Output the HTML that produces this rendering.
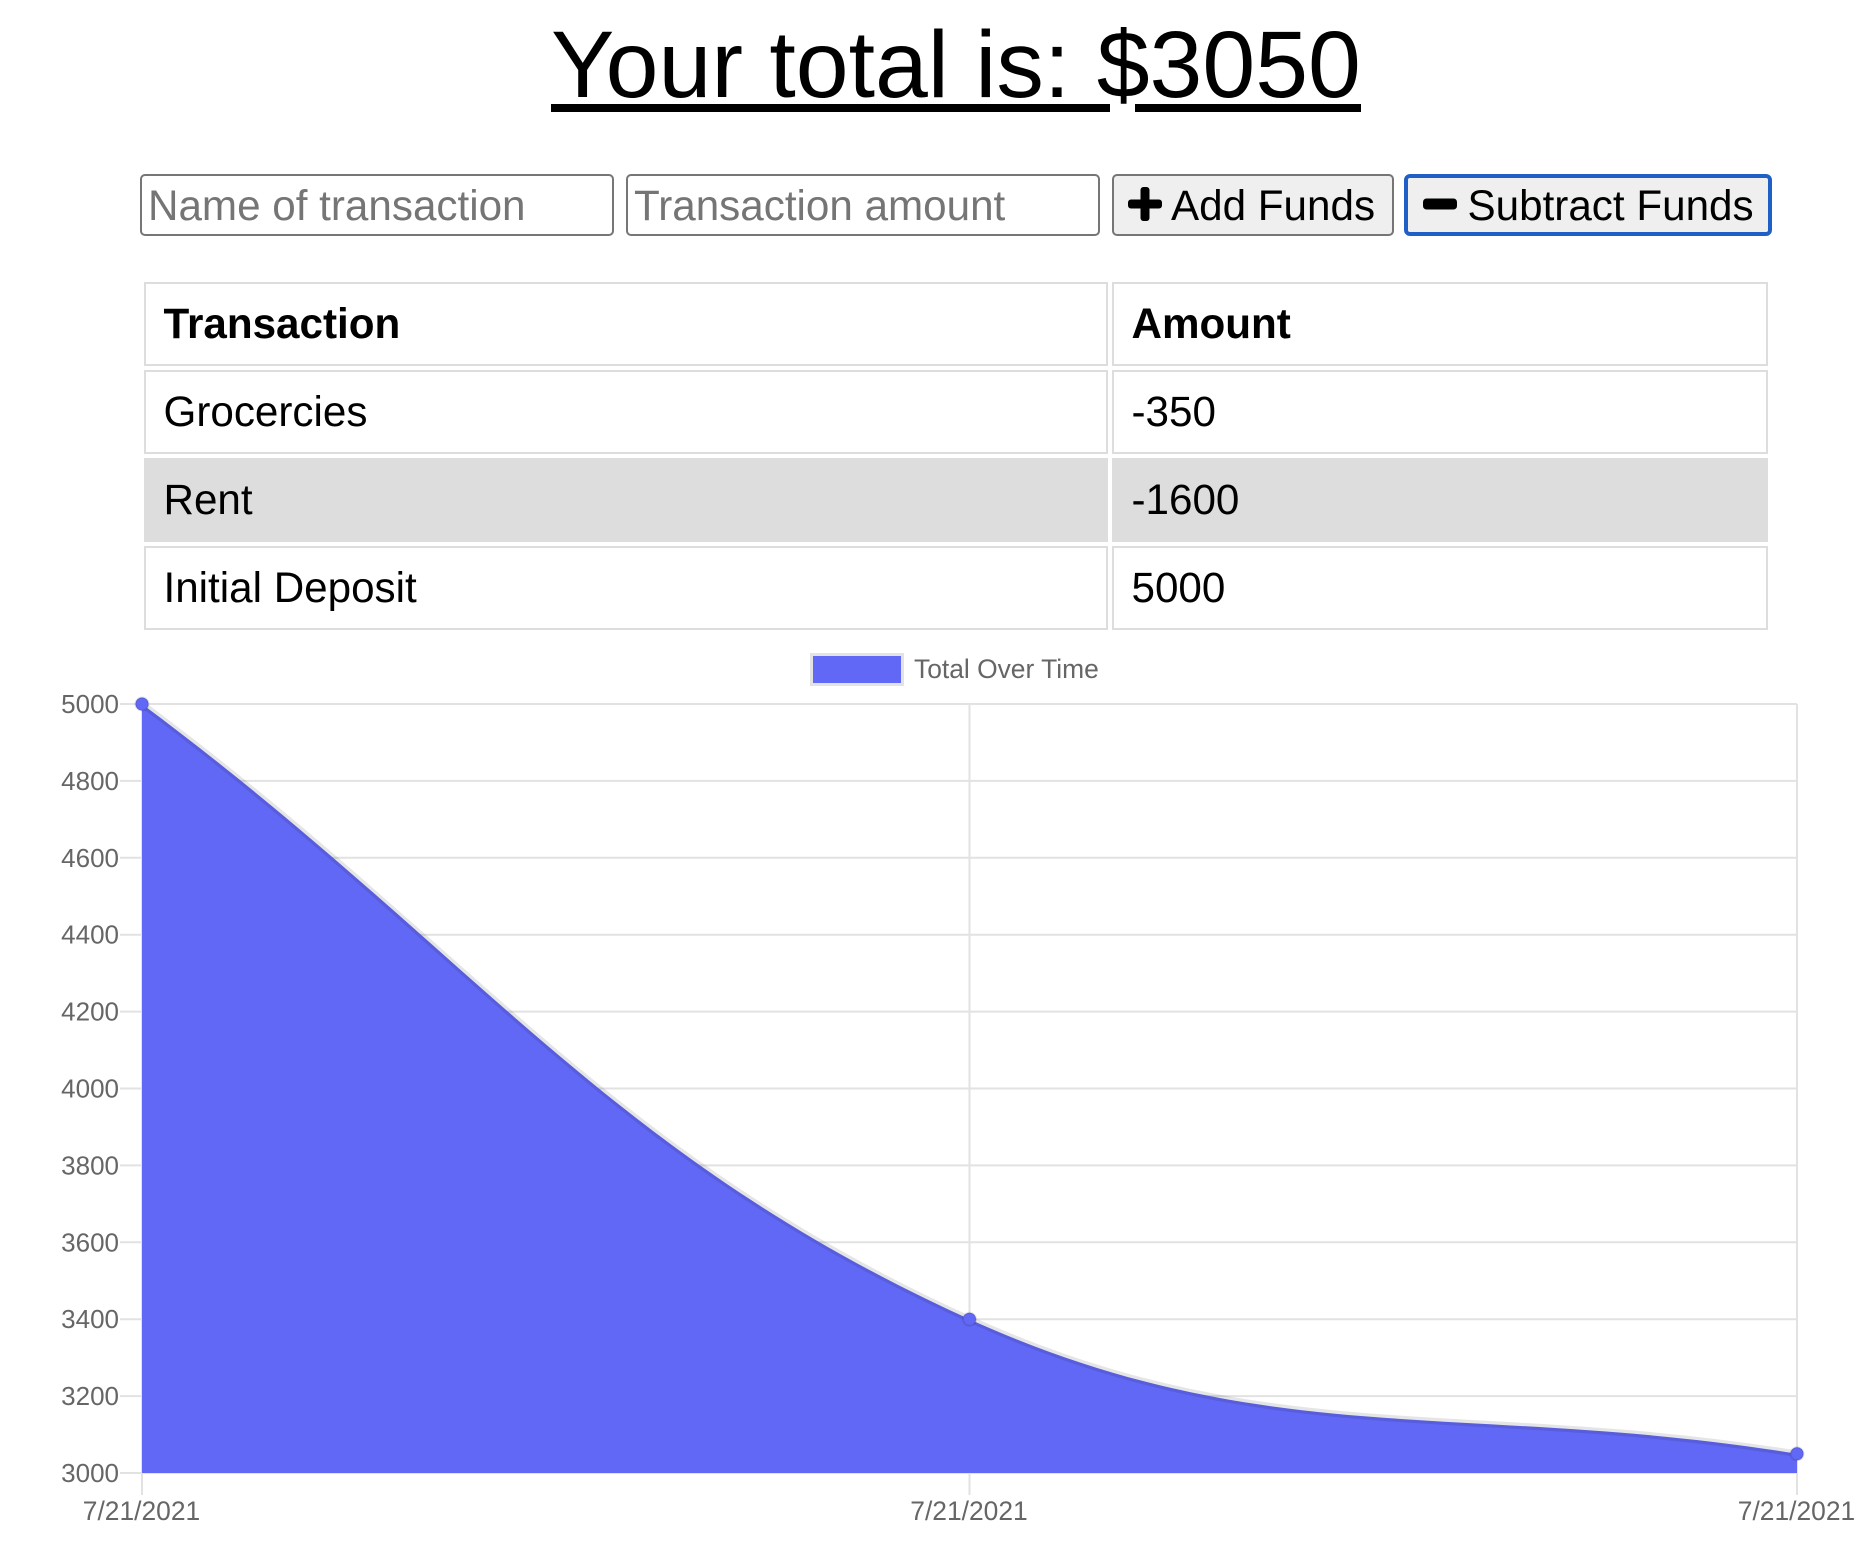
<!DOCTYPE html>
<html lang="en">
<head>
<meta charset="utf-8">
<title>Budget Tracker</title>
<style>
html,body{margin:0;padding:0;background:#fff}
body{width:1864px;height:1550px;position:relative;overflow:hidden;font-family:"Liberation Sans",Arial,sans-serif;color:#000}
#title{position:absolute;left:551px;top:0;margin:0;text-align:left;font-weight:400;font-size:95px;line-height:130px;height:130px;white-space:pre}
.rule{position:absolute;top:104px;height:8px;background:#000}
.field,.btn{position:absolute;top:174px;height:62px;box-sizing:border-box;border:2px solid #767676;border-radius:5px;font-family:"Liberation Sans",Arial,sans-serif;font-size:42.2px;margin:0}
.field{background:#fff;padding:2px 6px 0;outline:none}
.field::placeholder{color:#757575;opacity:1}
.btn{background:#efefef;color:#000;padding:0;text-align:left;white-space:nowrap}
.btn span{position:absolute;top:calc(50% + 1px);transform:translateY(-50%);line-height:50px}
.btn svg{position:absolute;display:block}
#subtract{border:4px solid #2060c6;border-radius:6px}
#tx{position:absolute;left:140px;top:278px;width:1632px;border-collapse:separate;border-spacing:4px;table-layout:fixed;font-size:42.2px}
#tx th,#tx td{height:84px;box-sizing:border-box;border:2px solid #ddd;padding:0 0 0 17.5px;text-align:left;vertical-align:middle;line-height:50px}
#tx tr.alt td{background:#ddd}
#chart{position:absolute;left:0;top:0}
#chart text{font-family:"Liberation Sans",Arial,sans-serif;font-size:26.4px;fill:#666}
#chart text.y-label{font-size:26px}
</style>
</head>
<body>
<h1 id="title">Your total is: $3050</h1>
<div class="rule" style="left:551px;width:559px"></div>
<div class="rule" style="left:1135px;width:226px"></div>

<input class="field" style="left:140px;width:473.5px" placeholder="Name of transaction">
<input class="field" style="left:626px;width:474px" placeholder="Transaction amount">

<button class="btn" id="add" style="left:1112px;width:282px">
  <svg style="left:13px;top:9.5px" width="36" height="36" viewBox="0 0 36 36"><rect x="13.5" y="1" width="9" height="34" rx="3" fill="#000"/><rect x="1" y="13.5" width="34" height="9" rx="3" fill="#000"/></svg>
  <span style="left:57px">Add Funds</span>
</button>
<button class="btn" id="subtract" style="left:1404px;width:368px">
  <svg style="left:13.5px;top:7.5px" width="36" height="36" viewBox="0 0 36 36"><rect x="1" y="12.5" width="34" height="11" rx="3.5" fill="#000"/></svg>
  <span style="left:59.5px">Subtract Funds</span>
</button>

<table id="tx">
  <colgroup><col style="width:964px"><col></colgroup>
  <thead>
    <tr><th>Transaction</th><th>Amount</th></tr>
  </thead>
  <tbody>
    <tr><td>Grocercies</td><td>-350</td></tr>
    <tr class="alt"><td>Rent</td><td>-1600</td></tr>
    <tr><td>Initial Deposit</td><td>5000</td></tr>
  </tbody>
</table>

<svg id="chart" width="1864" height="1550" viewBox="0 0 1864 1550" xmlns="http://www.w3.org/2000/svg">
  <g id="legend">
    <rect x="811.5" y="654.5" width="91" height="30" fill="#6168f5" stroke="#e3e3e3" stroke-width="3"/>
    <text x="914" y="678">Total Over Time</text>
  </g>
</svg>

<script>
const categories = ['7/21/2021', '7/21/2021', '7/21/2021'];
const seriesValues = [5000, 3400, 3050];
const yTickLabels = [5000, 4800, 4600, 4400, 4200, 4000, 3800, 3600, 3400, 3200, 3000];

const svgNS = 'http://www.w3.org/2000/svg';
const chart = document.getElementById('chart');
const plot = { left: 142, right: 1797, top: 704, bottom: 1473 };
const yMax = Math.max.apply(null, yTickLabels);
const yMin = Math.min.apply(null, yTickLabels);

function xScale(i) {
  return plot.left + (plot.right - plot.left) * i / (categories.length - 1);
}
function yScale(v) {
  return plot.bottom - (plot.bottom - plot.top) * (v - yMin) / (yMax - yMin);
}
function make(tag, attrs) {
  const el = document.createElementNS(svgNS, tag);
  Object.keys(attrs).forEach(function (k) { el.setAttribute(k, attrs[k]); });
  chart.appendChild(el);
  return el;
}

yTickLabels.forEach(function (t) {
  const y = yScale(t);
  const line = make('line', { x1: 120, x2: plot.right, y1: y, y2: y, stroke: '#e2e2e2', 'stroke-width': 2 });
  
  
  const label = make('text', { x: 119, y: y + 9, 'text-anchor': 'end', 'class': 'y-label' });
  
  
  label.textContent = t;
});

categories.forEach(function (c, i) {
  const x = xScale(i);
  const line = make('line', { x1: x, x2: x, y1: plot.top, y2: 1495, stroke: '#e2e2e2', 'stroke-width': 2 });
  
  
  const label = make('text', { x: x - 0.5, y: 1520, 'text-anchor': 'middle' });
  
  
  label.textContent = c;
});

// Spline matching a 0.4-tension Bezier through the data points
const pts = seriesValues.map(function (v, i) { return { x: xScale(i), y: yScale(v) }; });
const tension = 0.4;
const ctrl = pts.map(function (p, i) {
  const a = pts[i - 1] || p;
  const b = pts[i + 1] || p;
  const d01 = Math.hypot(p.x - a.x, p.y - a.y);
  const d12 = Math.hypot(b.x - p.x, b.y - p.y);
  const s = d01 + d12 || 1;
  const fa = tension * d01 / s;
  const fb = tension * d12 / s;
  return {
    px: p.x - fa * (b.x - a.x), py: Math.min(plot.bottom, Math.max(plot.top, p.y - fa * (b.y - a.y))),
    nx: p.x + fb * (b.x - a.x), ny: Math.min(plot.bottom, Math.max(plot.top, p.y + fb * (b.y - a.y)))
  };
});
let curve = 'M' + pts[0].x + ' ' + pts[0].y;
for (let i = 1; i < pts.length; i++) {
  curve += 'C' + ctrl[i - 1].nx + ' ' + ctrl[i - 1].ny + ' ' + ctrl[i].px + ' ' + ctrl[i].py + ' ' + pts[i].x + ' ' + pts[i].y;
}

const area = make('path', { d: curve + 'L' + plot.right + ' ' + plot.bottom + 'L' + plot.left + ' ' + plot.bottom + 'Z', fill: '#6168f5' });



const stroke = make('path', { d: curve, fill: 'none', stroke: 'rgba(0,0,0,0.1)', 'stroke-width': 6.5 });



pts.forEach(function (p) {
  const dot = make('circle', { cx: p.x, cy: p.y, r: 6.5, fill: '#6168f5', stroke: 'rgba(0,0,0,0.1)', 'stroke-width': 2 });
  
  
});
</script>
</body>
</html>
